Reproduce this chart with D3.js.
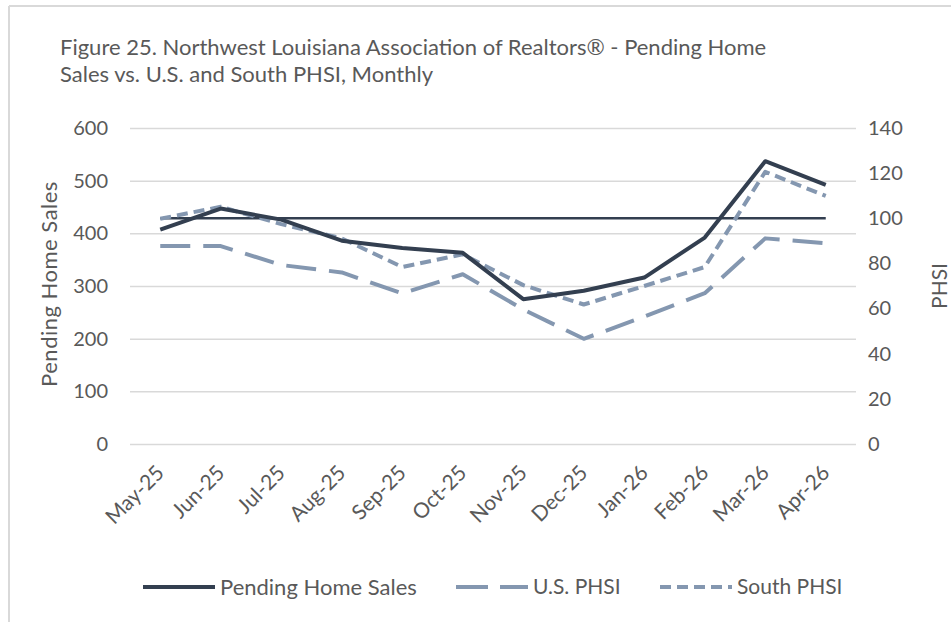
<!DOCTYPE html>
<html>
<head>
<meta charset="utf-8">
<script src="https://cdn.jsdelivr.net/npm/d3@7"></script>
<style>
    body { margin: 0; background: #ffffff; }
    svg text { font-family: Lato, "Open Sans", sans-serif; fill: #595959; }
</style>
</head>
<body>
<svg id="phsi_chart" width="951" height="622"></svg>
<script>
// chart data
const months      = ["May-25", "Jun-25", "Jul-25", "Aug-25", "Sep-25", "Oct-25",
                     "Nov-25", "Dec-25", "Jan-26", "Feb-26", "Mar-26", "Apr-26"];
const pending     = [407, 447, 426, 386, 372, 363, 275, 291, 316, 392, 537, 492];
const us_phsi     = [87.7, 87.7, 79.3, 76.0, 66.7, 75.2, 59.6, 46.6, 56.4, 66.8, 91.1, 88.9];
const south_phsi  = [99.8, 105.1, 97.4, 91.1, 78.4, 84.0, 70.4, 61.8, 70.0, 78.4, 120.6, 109.9];
const phsi_base   = 100;

const left_ticks  = [0, 100, 200, 300, 400, 500, 600];
const right_ticks = [0, 20, 40, 60, 80, 100, 120, 140];

const title_lines = ["Figure 25. Northwest Louisiana Association of Realtors\u00AE - Pending Home",
                     "Sales  vs. U.S. and South PHSI, Monthly"];

const dark_color  = "#333f50";
const light_color = "#8497b0";
const grid_color  = "#d9d9d9";

var svg = d3.select("#phsi_chart");

var margin = { left : 130, right : 856, top : 128, bottom : 444 };

// frame lines of the chart box (top and left only)
svg.append("line").attr("x1", 9).attr("x2", 951).attr("y1", 6).attr("y2", 6)
    .attr("stroke", grid_color).attr("stroke-width", 2);
svg.append("line").attr("x1", 9).attr("x2", 9).attr("y1", 6).attr("y2", 622)
    .attr("stroke", grid_color).attr("stroke-width", 2);

// scales
const x = d3.scalePoint()
    .domain(months)
    .range([margin.left, margin.right])
    .padding(0.5);

const yLeft = d3.scaleLinear()
    .domain([0, 600])
    .range([margin.bottom, margin.top]);

const yRight = d3.scaleLinear()
    .domain([0, 140])
    .range([margin.bottom, margin.top]);

// gridlines + left axis
const axisLeft = d3.axisLeft(yLeft)
    .tickValues(left_ticks)
    .tickSize(-(margin.right - margin.left))
    .tickPadding(22);

const gLeft = svg.append("g")
    .attr("transform", `translate(${margin.left},0)`)
    .call(axisLeft);
gLeft.select(".domain").remove();
gLeft.selectAll(".tick line").attr("stroke", grid_color).attr("stroke-width", 1.5);
gLeft.selectAll(".tick text").style("font-size", "20px").attr("fill", "#595959");

// right axis
const axisRight = d3.axisRight(yRight)
    .tickValues(right_ticks)
    .tickSize(0)
    .tickPadding(12);

const gRight = svg.append("g")
    .attr("transform", `translate(${margin.right},0)`)
    .call(axisRight);
gRight.select(".domain").remove();
gRight.selectAll(".tick text").style("font-size", "20px").attr("fill", "#595959");

// x axis labels, rotated
const gX = svg.append("g");
gX.selectAll("text").data(months)
    .enter().append("text")
    .attr("transform", d => `translate(${x(d)},${469}) rotate(-45)`)
    .attr("text-anchor", "end")
    .attr("dy", "0.35em")
    .style("font-size", "21px")
    .text(d => d);

// lines
const lineLeft = d3.line()
    .x((d, i) => x(months[i]))
    .y(d => yLeft(d));

const lineRight = d3.line()
    .x((d, i) => x(months[i]))
    .y(d => yRight(d));

// PHSI = 100 reference line
svg.append("path")
    .datum(months.map(() => phsi_base))
    .attr("d", lineRight)
    .attr("fill", "none")
    .attr("stroke", dark_color)
    .attr("stroke-width", 2.5);

svg.append("path")
    .datum(us_phsi)
    .attr("d", lineRight)
    .attr("fill", "none")
    .attr("stroke", light_color)
    .attr("stroke-width", 4)
    .attr("stroke-dasharray", "30,13")
    .attr("stroke-linejoin", "round");

svg.append("path")
    .datum(south_phsi)
    .attr("d", lineRight)
    .attr("fill", "none")
    .attr("stroke", light_color)
    .attr("stroke-width", 4)
    .attr("stroke-dasharray", "11,6")
    .attr("stroke-linejoin", "round");

svg.append("path")
    .datum(pending)
    .attr("d", lineLeft)
    .attr("fill", "none")
    .attr("stroke", dark_color)
    .attr("stroke-width", 4)
    .attr("stroke-linejoin", "round");

// axis titles
svg.append("text")
    .attr("transform", "translate(57,284) rotate(-90)")
    .attr("text-anchor", "middle")
    .style("font-size", "22px")
    .style("letter-spacing", "0.5px")
    .text("Pending Home Sales");

svg.append("text")
    .attr("transform", "translate(947,286) rotate(-90)")
    .attr("text-anchor", "middle")
    .style("font-size", "21px")
    .text("PHSI");

// title
svg.append("g").selectAll("text").data(title_lines)
    .enter().append("text")
    .attr("x", 60)
    .attr("y", (d, i) => 55 + i * 27)
    .style("font-size", "22px")
    .text(d => d);

// legend
const legend_items = [
    { name : "Pending Home Sales", color : dark_color,  dash : null,    x : 143, fs : "22px" },
    { name : "U.S. PHSI",          color : light_color, dash : "32,12", x : 456, fs : "21px" },
    { name : "South PHSI",         color : light_color, dash : "11,6",  x : 660, fs : "21px" }
];

const gLegend = svg.append("g").attr("transform", "translate(0,587)");

legend_items.forEach(item =>
{
    gLegend.append("line")
        .attr("x1", item.x).attr("x2", item.x + 72)
        .attr("y1", 0).attr("y2", 0)
        .attr("stroke", item.color)
        .attr("stroke-width", 4)
        .attr("stroke-dasharray", item.dash);

    gLegend.append("text")
        .attr("x", item.x + 77)
        .attr("dy", "0.35em")
        .style("font-size", item.fs)
        .text(item.name);
});
</script>
</body>
</html>
